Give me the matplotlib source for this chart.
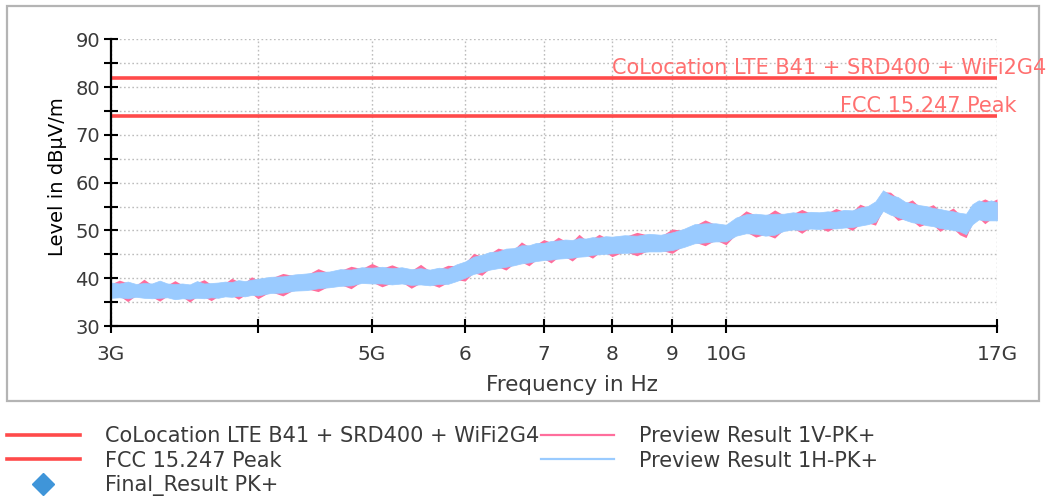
import matplotlib
matplotlib.use("Agg")
import matplotlib.pyplot as plt
import matplotlib.transforms as mtransforms
import matplotlib.ticker as mticker
from matplotlib.lines import Line2D
from matplotlib.patches import Rectangle

# ---------------- data ----------------
freq_ghz = [3.00, 3.05, 3.10, 3.15, 3.20, 3.25, 3.30, 3.35, 3.40, 3.45, 3.50, 3.55, 3.60, 3.65, 3.70,
            3.75, 3.80, 3.85, 3.90, 3.95, 4.00,
            4.1, 4.2, 4.3, 4.4, 4.5, 4.6, 4.7, 4.8, 4.9, 5.0,
            5.1, 5.2, 5.3, 5.4, 5.5, 5.6, 5.7, 5.8, 5.9, 6.0,
            6.1, 6.2, 6.3, 6.4, 6.5, 6.6, 6.7, 6.8, 6.9, 7.0,
            7.1, 7.2, 7.3, 7.4, 7.5, 7.6, 7.7, 7.8, 7.9, 8.0,
            8.2, 8.4, 8.6, 8.8, 9.0, 9.2, 9.4, 9.6, 9.8, 10.0,
            10.2, 10.4, 10.6, 10.8, 11.0, 11.2, 11.4, 11.6, 11.8, 12.0,
            12.2, 12.4, 12.6, 12.8, 13.0, 13.2, 13.4, 13.6, 13.8, 14.0,
            14.2, 14.4, 14.6, 14.8, 15.0, 15.2, 15.4, 15.6, 15.8, 16.0,
            16.2, 16.4, 16.6, 16.8, 17.0]

# Preview Result 1H-PK+ (upper / lower envelope of the trace, dBuV/m)
h_upper = [39.1, 38.9, 39.3, 38.8, 39.0, 38.9, 39.5, 38.9, 38.8, 38.9, 38.7, 39.4, 38.9, 39.0, 39.1,
           39.3, 39.2, 39.6, 39.4, 39.7, 39.9,
           40.3, 40.4, 40.8, 41.0, 41.3, 41.4, 41.9, 41.8, 42.3, 42.2,
           42.4, 42.1, 42.3, 41.9, 42.1, 41.8, 42.2, 42.0, 42.9, 43.5,
           44.5, 44.9, 45.5, 45.6, 46.2, 46.3, 46.9, 46.9, 47.4, 47.4,
           47.8, 47.9, 48.1, 48.0, 48.4, 48.3, 48.6, 48.5, 48.8, 48.7,
           49.0, 48.9, 49.3, 49.1, 49.6, 50.3, 51.3, 51.5, 51.5, 51.2,
           52.7, 53.4, 53.5, 53.3, 53.5, 53.5, 53.8, 53.6, 53.9, 53.8,
           54.0, 53.9, 54.3, 54.2, 54.8, 55.1, 56.1, 58.4, 57.4, 57.0,
           56.0, 55.7, 55.3, 55.1, 54.7, 54.5, 54.2, 54.0, 53.7, 53.5,
           55.5, 56.3, 55.9, 56.3, 55.9]
h_lower = [35.9, 36.0, 35.8, 36.1, 35.9, 35.8, 35.9, 36.0, 35.6, 35.8, 35.7, 35.9, 35.8, 36.0, 35.9,
           36.2, 36.1, 36.3, 36.2, 36.5, 36.4,
           36.9, 37.0, 37.4, 37.5, 37.9, 38.1, 38.4, 38.5, 39.0, 38.9,
           38.9, 38.7, 38.9, 38.6, 38.7, 38.5, 38.8, 38.8, 39.4, 40.1,
           40.9, 41.3, 41.8, 42.1, 42.4, 42.7, 43.1, 43.3, 43.6, 43.8,
           43.9, 44.1, 44.2, 44.3, 44.5, 44.6, 44.9, 45.0, 45.1, 45.2,
           45.3, 45.4, 45.6, 45.6, 45.9, 46.5, 47.3, 47.5, 47.7, 47.7,
           48.9, 49.4, 49.3, 48.9, 49.1, 49.9, 50.2, 50.1, 50.4, 50.3,
           50.5, 50.4, 50.6, 50.7, 51.0, 51.3, 51.8, 54.1, 53.3, 52.8,
           52.2, 51.7, 51.5, 51.1, 50.9, 50.5, 50.3, 50.1, 49.8, 49.2,
           51.3, 52.3, 52.1, 52.1, 52.1]

# Preview Result 1V-PK+ (upper / lower envelope of the trace, dBuV/m)
v_upper = [38.8, 39.6, 39.0, 38.5, 39.8, 38.6, 39.2, 38.6, 39.5, 38.6, 38.4, 39.1, 39.7, 38.7, 38.8,
           39.0, 40.0, 39.3, 39.1, 40.3, 39.6,
           40.0, 41.0, 40.5, 40.7, 42.0, 41.1, 41.6, 42.5, 42.0, 43.1,
           42.1, 42.8, 42.0, 41.6, 42.9, 41.5, 41.9, 42.7, 42.6, 43.2,
           45.2, 44.6, 45.2, 46.3, 45.9, 46.0, 47.6, 46.6, 47.1, 48.1,
           47.5, 48.6, 47.8, 47.7, 49.2, 48.0, 48.3, 49.2, 48.5, 48.4,
           48.7, 49.6, 49.0, 48.8, 50.3, 50.0, 51.0, 52.2, 51.2, 50.9,
           52.4, 54.1, 53.2, 53.0, 54.3, 53.2, 53.5, 54.4, 53.6, 53.5,
           53.7, 54.6, 54.0, 53.9, 55.5, 54.8, 55.8, 58.1, 58.0, 56.7,
           55.7, 56.4, 55.0, 54.8, 55.4, 54.2, 53.9, 54.7, 53.4, 53.2,
           55.2, 56.0, 56.6, 56.0, 56.6]
v_lower = [36.2, 36.3, 35.1, 36.4, 36.2, 36.1, 35.2, 36.3, 35.9, 36.1, 35.0, 36.2, 36.1, 35.3, 36.2,
           36.5, 36.4, 35.6, 36.5, 36.8, 35.7,
           37.2, 36.3, 37.7, 37.8, 37.2, 38.4, 38.7, 37.8, 39.3, 39.2,
           38.2, 39.0, 39.2, 37.9, 39.0, 38.8, 38.1, 39.1, 39.7, 39.4,
           41.2, 40.6, 42.1, 42.4, 41.7, 43.0, 43.4, 42.6, 43.9, 44.1,
           43.2, 44.4, 44.5, 43.6, 44.8, 44.9, 44.2, 45.3, 45.4, 44.5,
           45.6, 44.7, 45.9, 45.9, 45.2, 46.8, 47.6, 46.8, 48.0, 47.0,
           49.2, 49.7, 48.6, 49.2, 48.4, 50.2, 50.5, 49.4, 50.7, 50.6,
           49.8, 50.7, 50.9, 50.0, 51.3, 51.6, 51.1, 54.4, 53.6, 52.1,
           52.5, 52.0, 50.8, 51.4, 51.2, 49.8, 50.6, 50.4, 49.1, 48.5,
           51.6, 52.6, 51.4, 52.4, 52.4]

limit_names = ["CoLocation LTE B41 + SRD400 + WiFi2G4", "FCC 15.247 Peak"]
limit_levels = [82.0, 74.0]

xtick_ghz = [3, 4, 5, 6, 7, 8, 9, 10, 17]
xtick_labels = ["3G", "", "5G", "6", "7", "8", "9", "10G", "17G"]
ytick_major = [30, 40, 50, 60, 70, 80, 90]
ytick_minor = [35, 45, 55, 65, 75, 85]

# ---------------- style ----------------
RED = "#ff4a4a"
RED_TXT = "#ff7070"
PINK = "#ff6e9c"
BLUE = "#9acbff"
DIAMOND = "#3f95d9"
TXT = "#3a3a3a"

plt.rcParams["font.family"] = ["DejaVu Sans"]

W, H = 1050, 498
fig = plt.figure(figsize=(W / 100, H / 100), dpi=100)

# outer frame
fig.add_artist(Rectangle((7 / W, 1 - 401 / H), (1039 - 7) / W, (401 - 6) / H,
                         transform=fig.transFigure, fill=False,
                         edgecolor="#b4b4b4", linewidth=1.6, zorder=0))

ax = fig.add_axes([111 / W, 1 - 326 / H, (997 - 111) / W, (326 - 39.3) / H])
ax.set_xscale("log")

f_hz = [f * 1e9 for f in freq_ghz]

ax.fill_between(f_hz, v_lower, v_upper, color=PINK, linewidth=0, zorder=3)
ax.fill_between(f_hz, h_lower, h_upper, color=BLUE, linewidth=0.5, edgecolor=BLUE, zorder=4)

for lvl in limit_levels:
    ax.axhline(lvl, color=RED, linewidth=2.6, zorder=5)

blend = mtransforms.blended_transform_factory(ax.transAxes, ax.transData)
ax.text((612 - 111) / 886, limit_levels[0] + 0.75, limit_names[0], transform=blend,
        color=RED_TXT, fontsize=15, va="baseline", ha="left", clip_on=False, zorder=6)
ax.text((840 - 111) / 886, limit_levels[1] + 0.75, limit_names[1], transform=blend,
        color=RED_TXT, fontsize=15, va="baseline", ha="left", clip_on=False, zorder=6)

ax.set_xlim(3e9, 17e9)
ax.set_ylim(30, 90)
ax.set_xticks([t * 1e9 for t in xtick_ghz])
ax.set_xticklabels(xtick_labels)
ax.xaxis.set_minor_locator(mticker.NullLocator())
ax.set_yticks(ytick_major)
ax.set_yticks(ytick_minor, minor=True)

ax.grid(True, which="both", axis="y", linestyle=(0, (1.2, 1.8)), color="#bdbdbd", linewidth=1.0, zorder=1)
ax.grid(True, which="major", axis="x", linestyle=(0, (1.2, 1.8)), color="#bdbdbd", linewidth=1.0, zorder=1)
ax.set_axisbelow(True)

for s in ["top", "right"]:
    ax.spines[s].set_visible(False)
for s in ["left", "bottom"]:
    ax.spines[s].set_linewidth(1.6)
    ax.spines[s].set_color("black")
    ax.spines[s].set_zorder(7)

ax.tick_params(axis="both", which="both", direction="inout", length=10, width=1.5, color="black")
ax.tick_params(axis="x", pad=9, labelsize=14.5, labelcolor=TXT)
ax.tick_params(axis="y", pad=3, labelsize=14, labelcolor=TXT)

ax.set_ylabel("Level in dBµV/m", fontsize=14, color="black")
ax.yaxis.set_label_coords((67 - 111) / 886, 0.52)

fig.text(572 / W, 1 - 385 / H, "Frequency in Hz", fontsize=15.5, color=TXT, ha="center", va="center")

# legend
handles = [
    Line2D([], [], color=RED, linewidth=2.6),
    Line2D([], [], color=RED, linewidth=2.6),
    Line2D([], [], color=DIAMOND, marker="D", linestyle="none", markersize=11),
    Line2D([], [], color=PINK, linewidth=1.6),
    Line2D([], [], color=BLUE, linewidth=1.6),
]
labels = [limit_names[0], limit_names[1], "Final_Result PK+",
          "Preview Result 1V-PK+", "Preview Result 1H-PK+"]
leg = fig.legend(handles, labels, loc="upper left", bbox_to_anchor=(7 / W, 1 - 426 / H),
                 ncol=2, frameon=False, fontsize=15, handlelength=3.5, handletextpad=1.2,
                 columnspacing=0.1, labelspacing=0.22, borderpad=0, borderaxespad=0)
for t in leg.get_texts():
    t.set_color(TXT)

fig.savefig("out.png", dpi=100)
